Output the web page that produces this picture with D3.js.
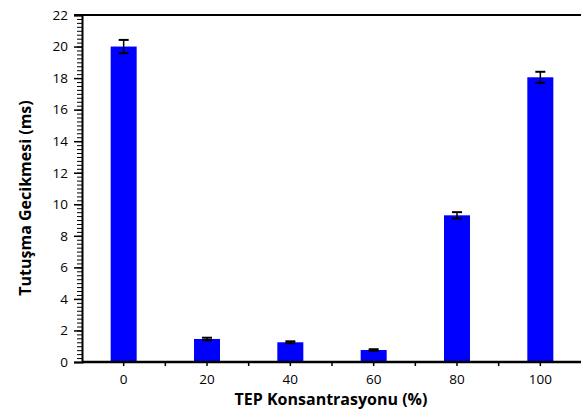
<!DOCTYPE html>
<html><head><meta charset="utf-8">
<script src="https://cdn.jsdelivr.net/npm/d3@7"></script>
<style>body{margin:0;background:#fff}svg{display:block}text{font-family:"Open Sans",Lato,sans-serif}</style>
</head><body>
<svg id="c" width="581" height="412"></svg>
<script>
const categories = ["0","20","40","60","80","100"];
const values = [20.0, 1.46, 1.25, 0.76, 9.3, 18.05];
const errors = [0.42, 0.08, 0.06, 0.05, 0.2, 0.35];
const yTicks = [0,2,4,6,8,10,12,14,16,18,20,22];

const svg = d3.select("#c");
const m = {left:82, top:15, right:-1, bottom:50};
const W = 581, H = 412;
const xb = d3.scaleBand().domain(categories).range([m.left, W - m.right]);
const y = d3.scaleLinear().domain([0,22]).range([H - m.bottom, m.top]);

// bars
svg.append("g").selectAll("rect").data(values).join("rect")
  .attr("x",(d,i)=>xb(categories[i]) + xb.bandwidth()/2 - 13)
  .attr("width",26)
  .attr("y",d=>y(d)).attr("height",d=>y(0)-y(d))
  .attr("fill","#0000ff");

// error bars
const eg = svg.append("g").attr("stroke","#000").attr("stroke-width",1.5);
values.forEach((v,i)=>{
  const cx = xb(categories[i]) + xb.bandwidth()/2;
  eg.append("line").attr("x1",cx).attr("x2",cx).attr("y1",y(v+errors[i])).attr("y2",y(v-errors[i]));
  eg.append("line").attr("x1",cx-5).attr("x2",cx+5).attr("y1",y(v+errors[i])).attr("y2",y(v+errors[i])).attr("stroke-width",2);
  eg.append("line").attr("x1",cx-5).attr("x2",cx+5).attr("y1",y(v-errors[i])).attr("y2",y(v-errors[i])).attr("stroke-width",2);
});

// y minor ticks
const minor = d3.range(0, 22.001, 0.25);
svg.append("g").attr("transform",`translate(${m.left},0)`)
  .call(d3.axisLeft(y).tickValues(minor).tickSize(5).tickFormat(""))
  .call(g=>g.select(".domain").remove())
  .call(g=>g.selectAll("line").attr("stroke","#000").attr("stroke-width",1));
// y major
svg.append("g").attr("transform",`translate(${m.left},0)`)
  .call(d3.axisLeft(y).tickValues(yTicks).tickSize(8).tickPadding(6).tickFormat(d3.format("d")))
  .call(g=>g.select(".domain").attr("stroke","#000").attr("stroke-width",2))
  .call(g=>g.selectAll("line").attr("stroke","#000").attr("stroke-width",1.5))
  .call(g=>g.selectAll("text").attr("font-size",13.5).attr("fill","#000"));

// top frame line
svg.append("line").attr("x1",m.left-8).attr("x2",W).attr("y1",y(22)).attr("y2",y(22)).attr("stroke","#000").attr("stroke-width",2);

// x axis: ticks at centers and boundaries
const xBoundaries = categories.slice(1).map(c=>xb(c));
svg.append("g").attr("transform",`translate(0,${y(0)})`)
  .call(g=>g.append("line").attr("x1",m.left).attr("x2",W).attr("stroke","#000").attr("stroke-width",2.5))
  .call(g=>g.selectAll(".bt").data(xBoundaries).join("line").attr("class","bt")
     .attr("x1",d=>d).attr("x2",d=>d).attr("y1",0).attr("y2",4).attr("stroke","#000").attr("stroke-width",1.5));
svg.append("g").attr("transform",`translate(0,${y(0)})`)
  .call(d3.axisBottom(xb).tickSize(4).tickPadding(8))
  .call(g=>g.select(".domain").remove())
  .call(g=>g.selectAll("line").attr("stroke","#000").attr("stroke-width",1.5))
  .call(g=>g.selectAll("text").attr("font-size",13.5).attr("fill","#000"));

// titles
svg.append("text").attr("x",331).attr("y",405).attr("text-anchor","middle")
  .attr("font-size",16).attr("font-weight","bold").text("TEP Konsantrasyonu (%)");
svg.append("text").attr("transform","translate(31,198) rotate(-90)").attr("text-anchor","middle")
  .attr("font-size",16).attr("font-weight","bold").text("Tutuşma Gecikmesi (ms)");
</script>
</body></html>
